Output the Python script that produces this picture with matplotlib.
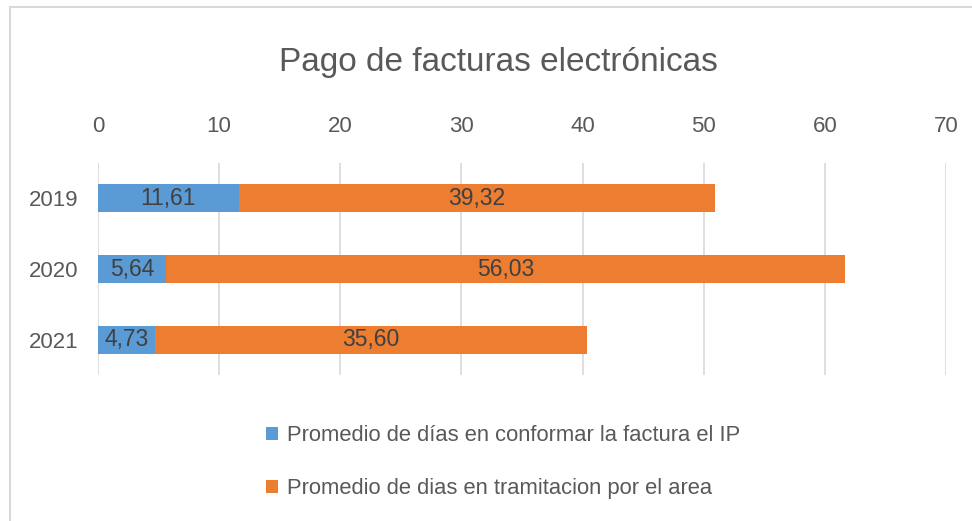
import matplotlib.pyplot as plt
from matplotlib.patches import Rectangle

#### DATA ####
years = ["2019", "2020", "2021"]
conformar = [11.61, 5.64, 4.73]
tramitacion = [39.32, 56.03, 35.60]
xticks = [0, 10, 20, 30, 40, 50, 60, 70]
serie_names = ["Promedio de días en conformar la factura el IP",
               "Promedio de dias en tramitacion por el area"]
title = "Pago de facturas electrónicas"

#### STYLE ####
plt.rcParams['font.family'] = ['Liberation Sans', 'DejaVu Sans']
blue = '#5B9BD5'
orange = '#ED7D31'
txt = '#595959'
lbl = '#404040'

fig = plt.figure(figsize=(9.72, 5.21), dpi=100)
ax = fig.add_axes([0.1008, 0.2802, 0.8725, 0.4069])

ypos = list(range(len(years)))
b1 = ax.barh(ypos, conformar, height=0.4, color=blue, label=serie_names[0], zorder=3)
b2 = ax.barh(ypos, tramitacion, left=conformar, height=0.4, color=orange,
             label=serie_names[1], zorder=3)

## labels in the middle of each segment
for bars in (b1, b2):
    ax.bar_label(bars, labels=[f"{b.get_width():.2f}".replace('.', ',') for b in bars],
                 label_type='center', color=lbl, fontsize=16.5)

ax.set_xlim(0, 70)
ax.set_ylim(2.5, -0.5)
ax.set_xticks(xticks)
ax.set_yticks(ypos)
ax.set_yticklabels(years)
ax.xaxis.tick_top()
ax.tick_params(axis='x', length=0, pad=19, labelsize=16, labelcolor=txt)
ax.tick_params(axis='y', length=0, pad=14, labelsize=16, labelcolor=txt)
ax.grid(axis='x', color='#D9D9D9', linewidth=1.2, zorder=0)
for s in ax.spines.values():
    s.set_visible(False)

fig.text(0.513, 0.88, title, ha='center', va='center', fontsize=24, color=txt)

fig.legend(handles=[b1, b2], loc='upper left', bbox_to_anchor=(0.274, 0.184),
           frameon=False, fontsize=15.8, labelcolor=txt, handlelength=0.55,
           handleheight=0.55, handletextpad=0.4, labelspacing=1.45,
           borderaxespad=0, borderpad=0)

## thin outer frame of the chart
fig.patches.append(Rectangle((10 / 972, -0.05), 1.1, 1 - 7 / 521 + 0.05,
                             transform=fig.transFigure, fill=False,
                             edgecolor='#D9D9D9', linewidth=1.5))

fig.savefig('out.png', dpi=100)
